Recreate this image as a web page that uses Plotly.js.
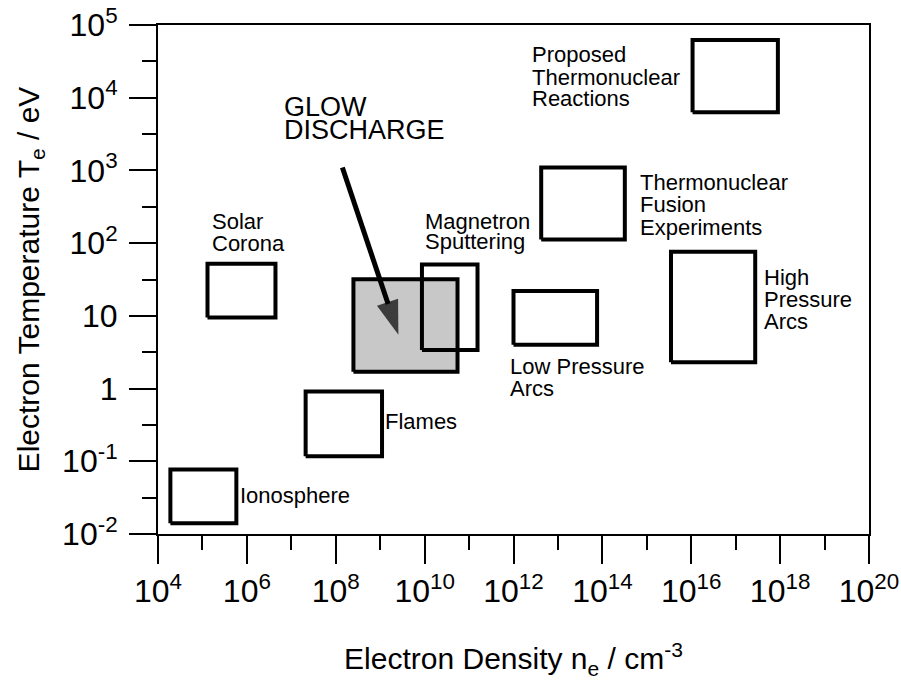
<!DOCTYPE html>
<html><head><meta charset="utf-8">
<script src="https://cdn.plot.ly/plotly-3.0.1.min.js"></script>
<style>html,body{margin:0;padding:0;background:#fff}</style>
</head><body><div id="chart" style="width:901px;height:683px"></div>
<script>
// ---- Data: plasma regions (electron density in cm^-3, electron temperature in eV)
const regionNames = ['Ionosphere', 'Solar Corona', 'Flames', 'Glow Discharge', 'Magnetron Sputtering',
  'Low Pressure Arcs', 'Thermonuclear Fusion Experiments', 'High Pressure Arcs', 'Proposed Thermonuclear Reactions'];
const densityMin = [1.9e4, 1.3e5, 2.1e7, 2.5e8, 8.7e9, 1.0e12, 4.2e12, 3.5e15, 1.07e16];
const densityMax = [5.8e5, 4.4e6, 1.1e9, 5.5e10, 1.55e11, 7.6e13, 3.2e14, 2.75e17, 8.9e17];
const tempMin = [0.014, 9.5, 0.117, 1.7, 3.4, 4.0, 112, 2.3, 6300];
const tempMax = [0.077, 52, 0.91, 32, 51, 22, 1100, 76, 62000];
const shadedRegion = ['Glow Discharge'];

// Arrow pointing into the glow discharge region (start, tip)
const arrowDensity = [1.41e8, 2.57e9];
const arrowTemp = [1100, 5.5];

// Ticks
const xTickVals = [1e4, 1e6, 1e8, 1e10, 1e12, 1e14, 1e16, 1e18, 1e20];
const xTickText = ['10<sup>4</sup>', '10<sup>6</sup>', '10<sup>8</sup>', '10<sup>10</sup>', '10<sup>12</sup>',
  '10<sup>14</sup>', '10<sup>16</sup>', '10<sup>18</sup>', '10<sup>20</sup>'];
const xMinorVals = [1e5, 1e7, 1e9, 1e11, 1e13, 1e15, 1e17, 1e19];
const yTickVals = [0.01, 0.1, 1, 10, 100, 1e3, 1e4, 1e5];
const yTickText = ['10<sup>-2</sup>', '10<sup>-1</sup>', '1', '10', '10<sup>2</sup>', '10<sup>3</sup>',
  '10<sup>4</sup>', '10<sup>5</sup>'];
const yMinorVals = [0.0316, 0.316, 3.16, 31.6, 316, 3162, 31623];

// Label lines (text only); placement below in layout section
const labelLines = ['GLOW', 'DISCHARGE', 'Solar', 'Corona', 'Magnetron', 'Sputtering',
  'Proposed', 'Thermonuclear', 'Reactions', 'Thermonuclear', 'Fusion', 'Experiments',
  'High', 'Pressure', 'Arcs', 'Low Pressure', 'Arcs', 'Flames', 'Ionosphere'];

// ---- Layout / placement (log10 axis coordinates for annotations)
const labelX = [6.786, 6.786, 5.159, 5.159, 9.974, 9.974, 12.373, 12.373, 12.373,
  14.812, 14.812, 14.812, 17.587, 17.587, 17.587, 11.871, 11.871, 9.074, 5.789];
const labelY = [3.868, 3.557, 2.292, 1.993, 2.301, 2.018, 4.590, 4.284, 3.986,
  2.831, 2.529, 2.222, 1.526, 1.229, 0.926, 0.308, 0.0, -0.458, -1.465];
const labelSize = [27, 27, 22, 22, 22, 22, 22, 22, 22, 22, 22, 22, 22, 22, 22, 22, 22, 22, 22];

const FONT = 'Liberation Sans, Arial, Helvetica, sans-serif';

const traces = regionNames.map((name, i) => {
  const shaded = shadedRegion.includes(name);
  return {
    type: 'scatter', mode: 'lines', name: name,
    x: [densityMin[i], densityMax[i], densityMax[i], densityMin[i], densityMin[i]],
    y: [tempMin[i], tempMin[i], tempMax[i], tempMax[i], tempMin[i]],
    line: {color: '#000', width: 4},
    fill: shaded ? 'toself' : 'none',
    fillcolor: shaded ? 'rgb(200,200,200)' : undefined,
    hoverinfo: 'skip', showlegend: false
  };
});

traces.push({
  type: 'scatter', mode: 'lines+markers', name: 'arrow',
  x: arrowDensity, y: arrowTemp,
  line: {color: '#000', width: 5},
  marker: {symbol: ['circle', 'arrow'], size: [0, 36], angleref: 'previous', color: '#000', line: {width: 0}},
  hoverinfo: 'skip', showlegend: false
});

const annotations = labelLines.map((t, i) => ({
  text: t, x: labelX[i], y: labelY[i], xref: 'x', yref: 'y',
  xanchor: 'left', yanchor: 'middle', showarrow: false,
  font: {family: FONT, size: labelSize[i], color: '#000'}
}));

const layout = {
  width: 901, height: 683,
  margin: {l: 158, r: 32, t: 25, b: 149},
  paper_bgcolor: '#fff', plot_bgcolor: '#fff',
  font: {family: FONT, color: '#000'},
  hovermode: false,
  xaxis: {
    type: 'log', range: [4, 20], showgrid: false, zeroline: false,
    showline: true, linecolor: '#000', linewidth: 2, mirror: true,
    ticks: 'outside', ticklen: 28, tickwidth: 2, tickcolor: '#000',
    tickmode: 'array', tickvals: xTickVals, ticktext: xTickText,
    tickfont: {family: FONT, size: 32, color: '#000'},
    minor: {tickmode: 'array', tickvals: xMinorVals, ticks: 'outside', ticklen: 14, tickwidth: 2, tickcolor: '#000', showgrid: false},
    title: {text: 'Electron Density n<sub>e</sub> / cm<sup>-3</sup>', font: {family: FONT, size: 30, color: '#000'}, standoff: 40},
    automargin: false
  },
  yaxis: {
    type: 'log', range: [-2, 5], showgrid: false, zeroline: false,
    showline: true, linecolor: '#000', linewidth: 2, mirror: true,
    ticks: 'outside', ticklen: 27, tickwidth: 2, tickcolor: '#000',
    ticklabelstandoff: 5,
    tickmode: 'array', tickvals: yTickVals, ticktext: yTickText,
    tickfont: {family: FONT, size: 32, color: '#000'},
    minor: {tickmode: 'array', tickvals: yMinorVals, ticks: 'outside', ticklen: 14, tickwidth: 2, tickcolor: '#000', showgrid: false},
    title: {text: 'Electron Temperature T<sub>e</sub> / eV', font: {family: FONT, size: 30, color: '#000'}, standoff: 14},
    automargin: false
  },
  annotations: annotations
};

Plotly.newPlot('chart', traces, layout, {staticPlot: true, displayModeBar: false});
</script>
</body></html>
